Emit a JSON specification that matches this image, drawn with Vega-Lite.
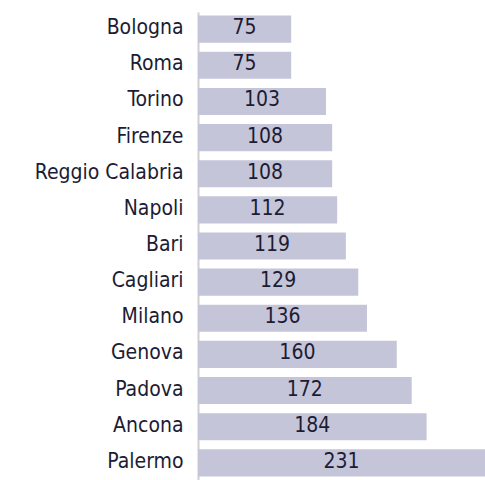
{
  "$schema": "https://vega.github.io/schema/vega-lite/v6.json",
  "width": 287,
  "height": 468,
  "autosize": "none",
  "padding": {"left": 198, "top": 12, "right": 0, "bottom": 0},
  "background": "white",
  "config": {"view": {"stroke": null}},
  "data": {"values": [
    {"city": "Bologna", "value": 75},
    {"city": "Roma", "value": 75},
    {"city": "Torino", "value": 103},
    {"city": "Firenze", "value": 108},
    {"city": "Reggio Calabria", "value": 108},
    {"city": "Napoli", "value": 112},
    {"city": "Bari", "value": 119},
    {"city": "Cagliari", "value": 129},
    {"city": "Milano", "value": 136},
    {"city": "Genova", "value": 160},
    {"city": "Padova", "value": 172},
    {"city": "Ancona", "value": 184},
    {"city": "Palermo", "value": 231}
  ]},
  "encoding": {
    "y": {"field": "city", "type": "nominal", "sort": null,
      "scale": {"paddingInner": 0.25, "paddingOuter": 0.1},
      "axis": {"title": null, "ticks": false, "domainColor": "#cfcfcf", "domainWidth": 2,
        "labelFont": "DejaVu Sans Condensed", "labelFontSize": 21, "labelColor": "#1c1c33",
        "labelPadding": 15, "labelOffset": -1}}
  },
  "layer": [
    {"mark": {"type": "bar", "color": "#c5c5da"},
      "encoding": {"x": {"field": "value", "type": "quantitative", "scale": {"domain": [0, 231], "nice": false}, "axis": null}}},
    {"mark": {"type": "text", "font": "DejaVu Sans Condensed", "fontSize": 21, "color": "#1c1c33", "baseline": "middle", "align": "center", "dy": -1},
      "encoding": {"x": {"field": "value", "type": "quantitative", "scale": {"domain": [0, 462], "nice": false}, "axis": null}, "text": {"field": "value"}}}
  ],
  "resolve": {"scale": {"x": "independent"}}
}
